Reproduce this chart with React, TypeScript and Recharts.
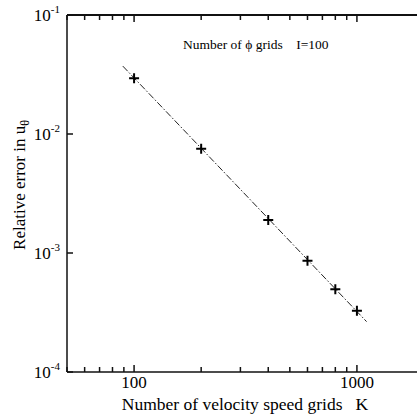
import React from "react";
import { ComposedChart, Scatter, XAxis, YAxis } from "recharts";

// measured points: relative error in u_theta vs number of velocity speed grids K
const gridK = [100, 200, 400, 600, 800, 1000];
const relError = [0.0294, 0.0075, 0.00189, 0.00086, 0.000495, 0.000327];

// dash-dot fitted line endpoints
const fitK = [89, 1105];
const fitError = [0.0372, 0.000265];

const xTicks = [50, 60, 70, 80, 90, 100, 200, 300, 400, 500, 600, 700, 800, 900, 1000, 2000];
const xMajor = [100, 1000];
const yTicks = [1e-4, 1e-3, 1e-2, 1e-1];
const yExponents = ["-4", "-3", "-2", "-1"];

const points = gridK.map((k, i) => ({ k, err: relError[i] }));
const fitLine = fitK.map((k, i) => ({ k, err: fitError[i] }));

const INK = "#111";

function BottomTick(props: any) {
  const { x, y, payload } = props;
  const major = xMajor.includes(payload.value);
  return (
    <g>
      <line x1={x} x2={x} y1={y} y2={y - (major ? 7 : 5)} stroke={INK} strokeWidth={1.5} />
      {major && (
        <text x={x} y={y + 16} textAnchor="middle" fontSize={17} fill="#000">
          {payload.value}
        </text>
      )}
    </g>
  );
}

function TopTick(props: any) {
  const { x, y, payload } = props;
  const major = xMajor.includes(payload.value);
  return <line x1={x} x2={x} y1={y} y2={y + (major ? 7 : 5)} stroke={INK} strokeWidth={1.5} />;
}

function LeftTick(props: any) {
  const { x, y, payload } = props;
  const idx = yTicks.findIndex((t) => Math.abs(t - payload.value) / t < 1e-6);
  return (
    <g>
      <line x1={x} x2={x + 6} y1={y} y2={y} stroke={INK} strokeWidth={1.5} />
      <text x={x - 7} y={y + 6} textAnchor="end" fontSize={17} fill="#000">
        10
        <tspan dy={-8} fontSize={11}>
          {yExponents[idx]}
        </tspan>
      </text>
    </g>
  );
}

function Plus(props: any) {
  const { cx, cy } = props;
  return (
    <path
      d={`M${cx - 5},${cy}H${cx + 5}M${cx},${cy - 5}V${cy + 5}`}
      stroke="#000"
      strokeWidth={2}
      fill="none"
    />
  );
}

function Titles() {
  return (
    <svg
      width={417}
      height={417}
      style={{ position: "absolute", left: 0, top: 0, pointerEvents: "none" }}
    >
      <text x={245} y={410} textAnchor="middle" fontSize={17.5} fill="#000" style={{ whiteSpace: "pre" }}>
        {"Number of velocity speed grids   K"}
      </text>
      <text transform="translate(25,185) rotate(-90)" textAnchor="middle" fontSize={17} fill="#000">
        Relative error in u
        <tspan dy={4} fontSize={12}>
          θ
        </tspan>
      </text>
      <text x={183} y={49} fontSize={13.5} fill="#000" style={{ whiteSpace: "pre" }}>
        {"Number of ϕ grids    I=100"}
      </text>
    </svg>
  );
}

export default function App() {
  return (
    <div
      style={{
        position: "absolute",
        left: 0,
        top: 0,
        width: 417,
        height: 417,
        overflow: "hidden",
        background: "#fff",
      }}
    >
      <ComposedChart width={430} height={417} margin={{ top: 14, right: 6, bottom: 0, left: 0 }}>
        <XAxis
          xAxisId="bottom"
          dataKey="k"
          type="number"
          scale="log"
          domain={[50, 2000]}
          allowDataOverflow
          ticks={xTicks}
          interval={0}
          height={45}
          tickSize={0}
          tickMargin={0}
          tickLine={false}
          tick={(p: any) => <BottomTick {...p} />}
          axisLine={{ stroke: INK, strokeWidth: 1.5 }}
        />
        <XAxis
          xAxisId="top"
          dataKey="k"
          orientation="top"
          type="number"
          scale="log"
          domain={[50, 2000]}
          allowDataOverflow
          ticks={xTicks}
          interval={0}
          height={1}
          tickSize={0}
          tickMargin={0}
          tickLine={false}
          tick={(p: any) => <TopTick {...p} />}
          axisLine={{ stroke: INK, strokeWidth: 2 }}
        />
        <YAxis
          yAxisId="left"
          dataKey="err"
          type="number"
          scale="log"
          domain={[1e-4, 1e-1]}
          allowDataOverflow
          ticks={yTicks}
          interval={0}
          width={67}
          tickSize={0}
          tickMargin={0}
          tickLine={false}
          tick={(p: any) => <LeftTick {...p} />}
          axisLine={{ stroke: INK, strokeWidth: 1.5 }}
        />
        <Scatter
          xAxisId="top"
          yAxisId="left"
          data={fitLine}
          dataKey="err"
          line={{ stroke: "#222", strokeWidth: 1, strokeDasharray: "7 2 1.5 2" }}
          shape={() => <g />}
          isAnimationActive={false}
        />
        <Scatter
          xAxisId="bottom"
          yAxisId="left"
          data={points}
          dataKey="err"
          shape={(p: any) => <Plus {...p} />}
          isAnimationActive={false}
        />
      </ComposedChart>
      <Titles />
    </div>
  );
}
